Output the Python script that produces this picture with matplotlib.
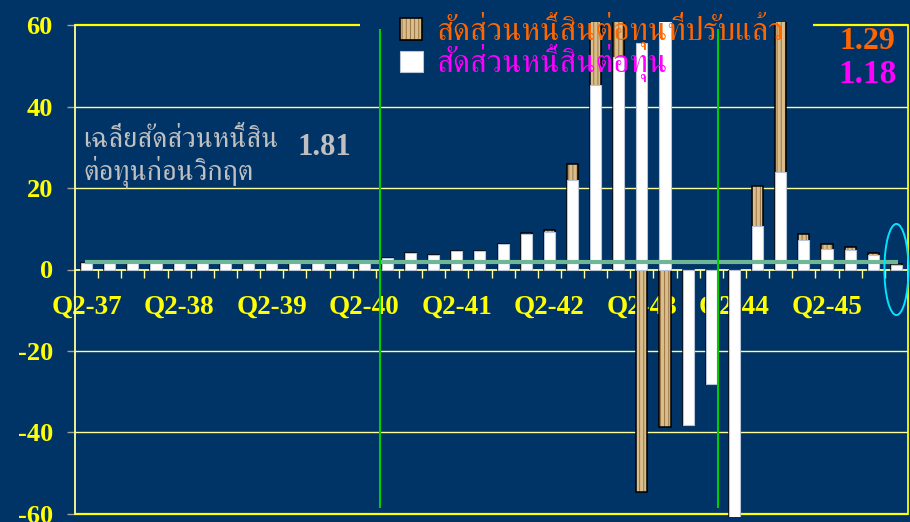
import numpy as np
import matplotlib
matplotlib.use("Agg")
import matplotlib.pyplot as plt
from matplotlib import font_manager, ft2font
from matplotlib.patches import Rectangle, Ellipse

# quarterly debt-to-equity ratios (Thai fiscal years)
quarters = ['Q2-37', 'Q3-37', 'Q4-37', 'Q1-38', 'Q2-38', 'Q3-38', 'Q4-38', 'Q1-39',
            'Q2-39', 'Q3-39', 'Q4-39', 'Q1-40', 'Q2-40', 'Q3-40', 'Q4-40', 'Q1-41',
            'Q2-41', 'Q3-41', 'Q4-41', 'Q1-42', 'Q2-42', 'Q3-42', 'Q4-42', 'Q1-43',
            'Q2-43', 'Q3-43', 'Q4-43', 'Q1-44', 'Q2-44', 'Q3-44', 'Q4-44', 'Q1-45',
            'Q2-45', 'Q3-45', 'Q4-45', 'Q1-46']
de_ratio = [1.6, 1.7, 1.8, 1.7, 1.8, 1.8, 1.9, 1.8, 1.9, 1.9, 1.8, 1.9,
            1.9, 2.8, 4.1, 3.5, 4.5, 4.5, 6.3, 8.7, 9.1, 21.9, 45.4, 52.3,
            55.6, 66.0, -38.3, -28.2, -75.0, 10.7, 24.0, 7.3, 5.0, 4.7, 3.5, 1.18]
de_adjusted = [1.6, 1.7, 1.8, 1.7, 1.8, 1.8, 1.9, 1.8, 1.9, 1.9, 1.8, 1.9,
               1.9, 2.8, 4.1, 3.5, 4.5, 4.5, 6.3, 9.0, 9.8, 25.9, 70.0, 80.0,
               -54.8, -38.8, -38.3, -28.2, -75.0, 20.5, 72.0, 8.7, 6.2, 5.5, 4.0, 1.29]
label_quarters = ['Q2-37', 'Q2-38', 'Q2-39', 'Q2-40', 'Q2-41', 'Q2-42', 'Q2-43', 'Q2-44', 'Q2-45']
pre_crisis_avg = 1.81
y_ticks = [-60, -40, -20, 0, 20, 40, 60]

NAVY = '#003366'
YELLOW = '#ffff00'
PALE = '#ffff99'
TAN = '#d9bd8a'
TAN_DARK = '#9a7646'


def thai_font():
    # first installed family that actually has Thai glyphs
    best = None
    for f in font_manager.fontManager.ttflist:
        try:
            cmap = ft2font.FT2Font(f.fname).get_charmap()
        except Exception:
            continue
        if 0x0E2A in cmap and 0x0E35 in cmap:
            if 'Serif' in f.name:
                return f.name
            best = best or f.name
    return best or 'DejaVu Sans'


THAI = [thai_font(), 'DejaVu Sans']
SERIF = 'Liberation Serif'

W, H = 910, 522
fig = plt.figure(figsize=(W / 100, H / 100), dpi=100, facecolor=NAVY)
ax = fig.add_axes([75 / W, 4.8 / H, 833 / W, 495.4 / H])
ax.set_facecolor(NAVY)


def fx(px):
    return px / W


def fy(py):
    return 1 - py / H


x = np.arange(len(quarters))
ax.set_xlim(-0.5, len(quarters) - 0.5)
ax.set_ylim(-60.9, 60.9)

# horizontal grid
for v in y_ticks:
    if v == 0:
        continue
    if abs(v) == 60:
        ax.axhline(v, color=YELLOW, lw=1.6, zorder=1)
    else:
        ax.axhline(v, color=PALE, lw=1.0, zorder=1)

# navy box behind the legend hides the top grid line there
ax.add_patch(Rectangle((fx(360), fy(80)), fx(813) - fx(360), 80 / H,
                       transform=fig.transFigure, facecolor=NAVY, edgecolor='none',
                       clip_on=False, zorder=1.5))

# adjusted ratio (textured) behind, plain ratio (white) in front
bw = 0.48
plt.rcParams['hatch.linewidth'] = 0.7
ax.bar(x, de_adjusted, width=bw, color=TAN, edgecolor=TAN_DARK, hatch='||||', linewidth=0, zorder=2)
ax.bar(x, de_adjusted, width=bw, fill=False, edgecolor='black', linewidth=1.1, zorder=2.1)
ax.bar(x, de_ratio, width=bw, color='white', edgecolor='#b8c4d8', linewidth=0.8, zorder=2.5)

# pre-crisis average line
ax.hlines(pre_crisis_avg, -0.05, len(quarters) - 0.95, color='#6fb697', lw=3.0, zorder=3)

# period markers
ax.vlines([12.68, 27.29], -58.6, 59.1, color='#00cc00', lw=1.5, zorder=3)
ax.add_patch(Ellipse((len(quarters) - 1, 0), 1.04, 22.4, fill=False, edgecolor='#00e5ff',
                     lw=1.4, clip_on=False, zorder=4))

# axes styling
ax.spines['top'].set_visible(False)
ax.spines['left'].set_bounds(-60, 60)
ax.spines['left'].set_color(PALE)
ax.spines['left'].set_linewidth(1.3)
ax.spines['right'].set_bounds(-60, 60)
ax.spines['right'].set_color(YELLOW)
ax.spines['right'].set_linewidth(1.3)
ax.spines['bottom'].set_position(('data', 0))
ax.spines['bottom'].set_color(PALE)
ax.spines['bottom'].set_linewidth(1.3)
ax.spines['bottom'].set_zorder(1.8)

ax.set_yticks(y_ticks)
ax.set_yticklabels([str(v) for v in y_ticks], fontfamily=SERIF, fontweight='bold',
                   fontsize=19, color=YELLOW)
ax.tick_params(axis='y', direction='out', length=6, width=1, color='#a0a0a0', pad=10)

ax.set_xticks([quarters.index(q) for q in label_quarters])
ax.set_xticklabels(label_quarters, fontfamily=SERIF, fontweight='bold', fontsize=19.5, color=YELLOW)
ax.set_xticks(x[:-1] + 0.5, minor=True)
ax.tick_params(axis='x', which='major', length=0, pad=18.5)
ax.tick_params(axis='x', which='minor', direction='out', length=6, width=1, color=PALE)

# legend
fig.patches.append(Rectangle((fx(400), fy(40)), 22 / W, 22 / H, transform=fig.transFigure,
                             facecolor=TAN, edgecolor=TAN_DARK, hatch='||||', lw=0, zorder=5))
fig.patches.append(Rectangle((fx(400), fy(40)), 22 / W, 22 / H, transform=fig.transFigure,
                             fill=False, edgecolor='black', lw=1.2, zorder=5))
fig.patches.append(Rectangle((fx(400), fy(72)), 23 / W, 21 / H, transform=fig.transFigure,
                             facecolor='white', edgecolor='#b8c4d8', lw=0.8, zorder=5))
fig.text(fx(436), fy(40), 'สัดส่วนหนี้สินต่อทุนที่ปรับแล้ว', family=THAI, fontsize=23,
         color='#ff6600', va='baseline', zorder=6)
fig.text(fx(436), fy(72), 'สัดส่วนหนี้สินต่อทุน', family=THAI, fontsize=23,
         color='#ff00ff', va='baseline', zorder=6)

fig.text(fx(895), fy(49), '1.29', family=SERIF, fontweight='bold', fontsize=23,
         color='#ff6600', ha='right', va='baseline')
fig.text(fx(897), fy(83), '1.18', family=SERIF, fontweight='bold', fontsize=24,
         color='#ff00ff', ha='right', va='baseline')

# pre-crisis note
fig.text(fx(83), fy(147), 'เฉลี่ยสัดส่วนหนี้สิน', family=THAI, fontsize=20.5,
         color='#c0c0c0', va='baseline')
fig.text(fx(83), fy(179), 'ต่อทุนก่อนวิกฤต', family=THAI, fontsize=20.5,
         color='#c0c0c0', va='baseline')
fig.text(fx(297), fy(155), f'{pre_crisis_avg:.2f}', family=SERIF, fontweight='bold',
         fontsize=22, color='#c0c0c0', va='baseline')

fig.savefig('out.png', dpi=100, facecolor=NAVY)
